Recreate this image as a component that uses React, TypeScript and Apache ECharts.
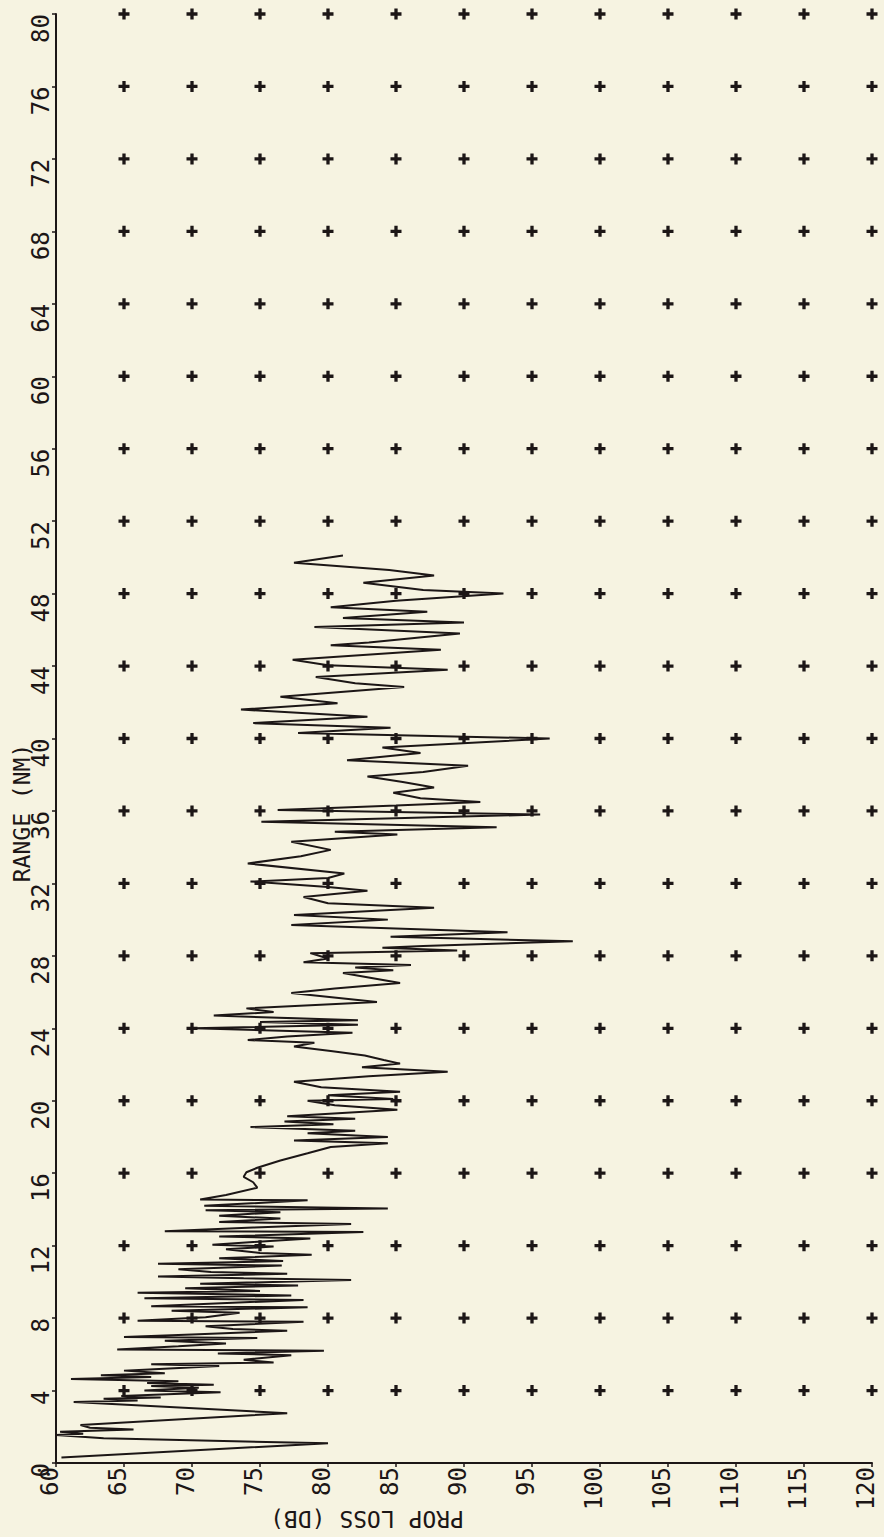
import React, { useEffect, useRef } from "react";
import * as echarts from "echarts";

const BG = "#f6f3e1";
const INK = "#1c1616";
const FONT = "DejaVu Sans Mono";

const rangeTicks = [0, 4, 8, 12, 16, 20, 24, 28, 32, 36, 40, 44, 48, 52, 56, 60, 64, 68, 72, 76, 80];
const lossTicks = [60, 65, 70, 75, 80, 85, 90, 95, 100, 105, 110, 115, 120];

// Range (NM) of each traced point
const rangeNM = [
  0.3, 1.09, 1.36, 1.55, 1.62, 1.72, 1.85, 1.95, 2.1, 2.75, 3.37, 3.45, 3.55, 3.62, 3.7, 3.9, 4.0, 4.15, 4.25, 4.32,
  4.42, 4.52, 4.64, 4.75, 4.85, 4.95, 5.1, 5.35, 5.45, 5.55, 5.7, 5.95, 6.05, 6.2, 6.27, 6.45, 6.6, 6.75, 6.9, 6.95,
  7.1, 7.3, 7.4, 7.55, 7.8, 7.85, 8.05, 8.3, 8.4, 8.6, 8.65, 8.85, 9.0, 9.1, 9.25, 9.4, 9.5, 9.65, 9.8, 9.9,
  10.1, 10.2, 10.3, 10.45, 10.55, 10.7, 10.9, 11.0, 11.15, 11.3, 11.5, 11.6, 11.8, 11.95, 12.05, 12.2, 12.4, 12.5, 12.75, 12.8,
  13.0, 13.2, 13.3, 13.5, 13.65, 13.85, 13.95, 14.05, 14.2, 14.5, 14.55, 14.8, 15.2, 15.5, 15.8, 16.05, 16.3, 16.7, 17.1, 17.45,
  17.65, 17.8, 18.0, 18.2, 18.35, 18.55, 18.7, 18.85, 19.0, 19.15, 19.5, 19.75, 20.0, 20.1, 20.3, 20.5, 20.75, 21.05, 21.35, 21.6,
  21.85, 22.05, 22.25, 22.5, 22.75, 23.0, 23.2, 23.35, 23.55, 23.75, 24.0, 24.2, 24.35, 24.45, 24.7, 24.9, 25.1, 25.45, 25.95, 26.2,
  26.5, 27.05, 27.2, 27.35, 27.5, 27.65, 27.85, 28.15, 28.3, 28.45, 28.55, 28.8, 29.05, 29.3, 29.7, 30.0, 30.25, 30.65, 30.9, 31.25,
  31.6, 31.8, 32.1, 32.3, 32.55, 33.1, 33.5, 33.85, 34.3, 34.7, 34.85, 35.1, 35.4, 35.8, 36.05, 36.3, 36.5, 36.7, 37.0, 37.3,
  37.6, 37.9, 38.15, 38.5, 38.8, 39.2, 39.5, 40.0, 40.3, 40.6, 40.85, 41.2, 41.6, 41.95, 42.3, 42.85, 43.05, 43.4, 43.8, 44.05,
  44.35, 44.9, 45.15, 45.3, 45.8, 46.15, 46.4, 46.65, 47.0, 47.25, 47.6, 48.0, 48.2, 48.6, 49.0, 49.3, 49.7, 50.1,
];

// Propagation loss (dB) of each traced point
const propLossDB = [
  60.4, 80.0, 63.5, 60.0, 62.0, 60.3, 65.7, 62.5, 61.8, 77.0, 61.3, 66.0, 63.5, 67.7, 64.8, 72.1, 66.5, 70.5, 67.0, 71.6,
  66.7, 69.0, 61.1, 67.0, 63.3, 68.0, 65.0, 72.0, 67.0, 76.0, 73.8, 77.3, 71.9, 79.7, 64.5, 69.0, 72.5, 68.0, 74.8, 65.0,
  70.0, 77.0, 73.0, 71.0, 78.2, 66.0, 71.0, 73.5, 68.5, 78.5, 67.0, 73.0, 78.2, 66.5, 77.3, 66.0, 75.0, 69.5, 77.8, 70.6,
  81.7, 73.8, 67.5, 77.0, 71.4, 69.0, 76.6, 67.5, 76.7, 72.0, 78.8, 75.0, 72.5, 76.0, 71.5, 74.5, 78.7, 72.0, 82.6, 68.0,
  74.5, 81.7, 72.0, 76.5, 72.0, 76.5, 71.0, 84.4, 70.9, 78.5, 70.6, 72.5, 74.8, 74.5, 73.8, 74.0, 74.8, 76.5, 78.5, 80.2,
  84.4, 77.5, 84.4, 78.5, 82.0, 74.3, 80.4, 76.8, 82.0, 77.0, 85.1, 80.5, 78.5, 84.8, 80.0, 85.3, 79.5, 77.5, 83.0, 88.8,
  82.5, 85.3, 84.1, 82.7, 80.2, 77.5, 79.0, 74.1, 77.0, 81.8, 70.1, 82.2, 75.0, 82.2, 71.6, 76.0, 74.0, 83.6, 77.3, 80.5,
  85.3, 81.1, 84.8, 82.0, 86.1, 78.2, 80.0, 78.7, 89.5, 84.0, 87.0, 98.0, 84.6, 93.2, 77.3, 84.4, 77.5, 87.8, 80.0, 78.2,
  82.9, 80.0, 74.3, 80.0, 81.2, 74.1, 78.0, 80.2, 77.3, 85.1, 80.5, 92.4, 75.1, 95.6, 76.3, 85.0, 91.2, 86.8, 84.8, 87.8,
  85.5, 82.9, 87.0, 90.3, 81.4, 86.8, 84.0, 96.3, 77.8, 84.6, 74.5, 82.9, 73.6, 80.7, 76.5, 85.6, 82.0, 79.1, 88.8, 80.0,
  77.4, 88.3, 80.2, 83.0, 89.7, 79.0, 90.0, 81.1, 87.3, 80.2, 85.0, 92.9, 87.0, 82.6, 87.8, 84.5, 77.5, 81.1,
];

const PLUS = "path://M3.5,0H6.5V3.5H10V6.5H6.5V10H3.5V6.5H0V3.5H3.5Z";

export default function App() {
  const ref = useRef<HTMLDivElement>(null);

  useEffect(() => {
    if (!ref.current) return;
    const chart = echarts.init(ref.current, null, { renderer: "svg" });

    const curve = rangeNM.map((r, i) => [propLossDB[i], r]);
    const crosses: number[][] = [];
    lossTicks.slice(1).forEach((l) => {
      rangeTicks.slice(1).forEach((r) => crosses.push([l, r]));
    });

    chart.setOption({
      animation: false,
      backgroundColor: BG,
      grid: {
        left: 56,
        top: 14,
        right: 12,
        bottom: 74,
        containLabel: false,
        outerBoundsMode: "none",
      },
      xAxis: {
        type: "value",
        min: 60,
        max: 120,
        interval: 5,
        position: "bottom",
        splitLine: { show: false },
        axisLine: { show: true, onZero: false, lineStyle: { color: INK, width: 2 } },
        axisTick: { show: true, length: 4, lineStyle: { color: INK, width: 1.5 } },
        axisLabel: {
          show: true,
          rotate: 90,
          align: "right",
          verticalAlign: "bottom",
          lineHeight: 12,
          margin: 4,
          fontSize: 24,
          fontFamily: FONT,
          color: INK,
          showMinLabel: true,
          showMaxLabel: true,
          formatter: (v: number) => String(v),
        },
      },
      yAxis: {
        type: "value",
        min: 0,
        max: 80,
        interval: 4,
        position: "left",
        splitLine: { show: false },
        axisLine: { show: true, onZero: false, lineStyle: { color: INK, width: 2 } },
        axisTick: { show: true, length: 4, lineStyle: { color: INK, width: 1.5 } },
        axisLabel: {
          show: true,
          rotate: 90,
          align: "right",
          verticalAlign: "bottom",
          lineHeight: 15,
          margin: 8,
          fontSize: 24,
          fontFamily: FONT,
          color: INK,
          showMinLabel: true,
          showMaxLabel: true,
          formatter: (v: number) => String(v),
        },
      },
      series: [
        {
          type: "scatter",
          data: crosses,
          symbol: PLUS,
          symbolSize: 11,
          itemStyle: { color: INK, opacity: 1 },
          silent: true,
          z: 2,
        },
        {
          type: "line",
          data: curve,
          showSymbol: false,
          symbol: "none",
          lineStyle: { color: INK, width: 2 },
          silent: true,
          z: 3,
        },
      ],
      graphic: [
        {
          type: "text",
          x: 22,
          y: 813,
          rotation: Math.PI / 2,
          style: {
            text: "RANGE (NM)",
            fill: INK,
            font: `23px "${FONT}"`,
            align: "center",
            verticalAlign: "middle",
          },
        },
        {
          type: "text",
          x: 367,
          y: 1519,
          rotation: Math.PI,
          style: {
            text: "PROP LOSS (DB)",
            fill: INK,
            font: `23px "${FONT}"`,
            align: "center",
            verticalAlign: "middle",
          },
        },
      ],
    });

    return () => chart.dispose();
  }, []);

  return (
    <div
      ref={ref}
      style={{ position: "absolute", left: 0, top: 0, width: 884, height: 1537, background: BG }}
    />
  );
}
